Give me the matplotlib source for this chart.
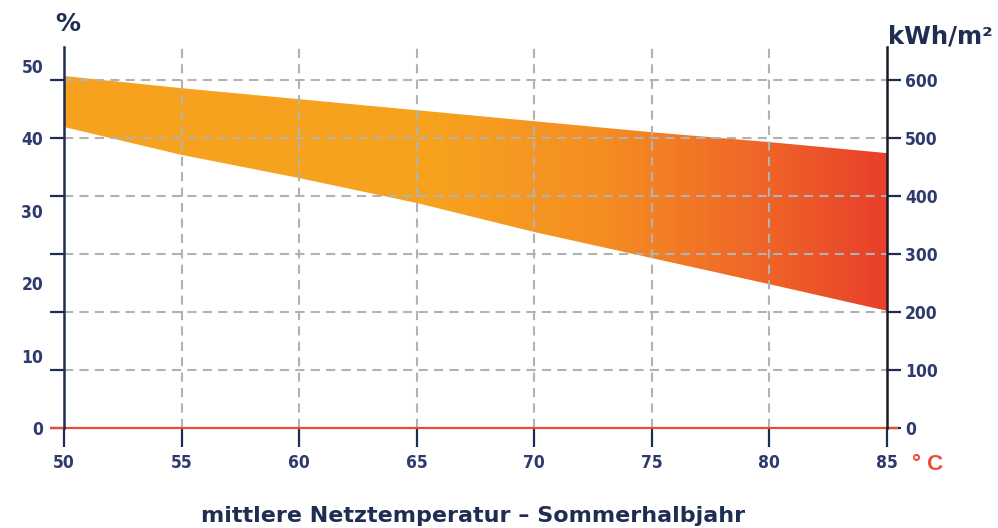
import numpy as np
import matplotlib
matplotlib.use("Agg")
import matplotlib.pyplot as plt
from matplotlib.colors import LinearSegmentedColormap
from matplotlib.patches import Polygon
from matplotlib import font_manager

# Mean network temperature (°C) and specific yield band (kWh/m²)
temperature = [50, 55, 60, 65, 70, 75, 80, 85]
yield_upper = [607, 586, 567, 548, 529, 510, 493, 474]
yield_lower = [519, 471, 431, 388, 338, 293, 248, 202]

x_ticks = [50, 55, 60, 65, 70, 75, 80, 85]
kwh_ticks = [0, 100, 200, 300, 400, 500, 600]
pct_ticks = [0, 10, 20, 30, 40, 50]
KWH_PER_PCT = 12.5

NAVY = "#1f2d52"
LABEL = "#2e3a6e"
RED = "#ee4a36"
GRID = "#b2b2b2"

installed = {f.name for f in font_manager.fontManager.ttflist}
narrow = "Liberation Sans Narrow" if "Liberation Sans Narrow" in installed else "DejaVu Sans"
tick_font = dict(family=narrow, size=15.5 if narrow != "DejaVu Sans" else 12.5,
                 weight="bold", stretch="condensed")

W, H = 998, 528
fig = plt.figure(figsize=(W / 100, H / 100), dpi=100)
ax = fig.add_axes([64 / W, (H - 428) / H, (887 - 64) / W, (428 - 47) / H])
ax.set_xlim(50, 85)
ax.set_ylim(0, 657)

# gradient-filled band clipped to the polygon between lower and upper edge
verts = list(zip(temperature, yield_upper)) + list(zip(temperature[::-1], yield_lower[::-1]))
band = Polygon(verts, closed=True, facecolor="none", edgecolor="none")
ax.add_patch(band)
cmap = LinearSegmentedColormap.from_list(
    "heat",
    [(0.0, "#f7a31e"), (0.45, "#f7a21e"), (0.65, "#f58e22"),
     (0.85, "#ef6528"), (1.0, "#e8402b")])
grad = np.linspace(0, 1, 512).reshape(1, -1)
img = ax.imshow(grad, cmap=cmap, aspect="auto", extent=(50, 85, 0, 657),
                origin="lower", zorder=1)
img.set_clip_path(band)

# dashed grid over the band
dash = (0, (4.4, 3.0))
for xv in x_ticks[1:-1]:
    ax.axvline(xv, color=GRID, lw=1.5, ls=dash, zorder=3)
for yv in kwh_ticks[1:]:
    ax.axhline(yv, color=GRID, lw=1.5, ls=dash, zorder=3)

# zero line
ax.plot([49.4, 85.47], [0, 0], color=RED, lw=1.6, zorder=4, clip_on=False,
        solid_capstyle="butt")

for side in ("top", "bottom"):
    ax.spines[side].set_visible(False)
ax.spines["left"].set_color(NAVY)
ax.spines["left"].set_linewidth(1.8)
ax.spines["right"].set_color("#1a1a24")
ax.spines["right"].set_linewidth(1.8)
ax.spines["left"].set_zorder(5)
ax.spines["right"].set_zorder(5)

ax.set_xticks(x_ticks)
ax.set_xticklabels([str(v) for v in x_ticks], color=LABEL, **tick_font)
ax.tick_params(axis="x", length=13.5, width=1.6, color=NAVY, pad=5, direction="out")

ax.set_yticks(kwh_ticks)
ax.set_yticklabels([str(v) for v in kwh_ticks], color=LABEL, **tick_font)
ax.tick_params(axis="y", left=True, right=True, labelleft=False, labelright=True,
               length=10, width=1.6, color=NAVY, pad=3, direction="out")

# percentage scale on the left
sec = ax.secondary_yaxis("left", functions=(lambda k: k / KWH_PER_PCT,
                                            lambda p: p * KWH_PER_PCT))
sec.set_yticks(pct_ticks)
sec.set_yticklabels([str(v) for v in pct_ticks], color=LABEL, **tick_font)
sec.tick_params(axis="y", length=0, pad=15)
sec.spines["left"].set_visible(False)

fig.text(68 / W, 1 - 24 / H, "%", ha="center", va="center", color=NAVY,
         fontsize=18, fontweight="bold", family="DejaVu Sans")
fig.text(888 / W, 1 - 37 / H, "kWh/m²", ha="left", va="center", color=NAVY,
         fontsize=17.5, fontweight="bold", family="DejaVu Sans")
fig.text(912 / W, 1 - 464 / H, "° C", ha="left", va="center", color=RED,
         fontsize=16, fontweight="bold", family=["Liberation Sans", "DejaVu Sans"])
fig.text(473 / W, 1 - 516 / H, "mittlere Netztemperatur – Sommerhalbjahr",
         ha="center", va="center", color=NAVY, fontsize=16, fontweight="bold")

fig.savefig("out.png", dpi=100, facecolor="white")
